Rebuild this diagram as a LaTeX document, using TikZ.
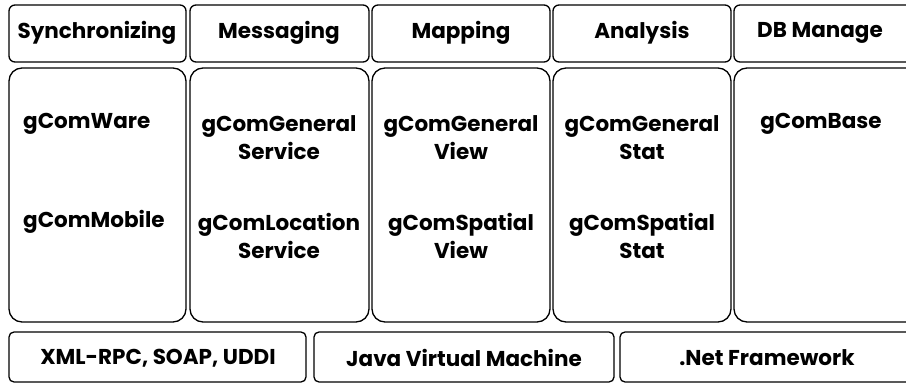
\documentclass[tikz,border=0pt]{standalone}
\usepackage{fontspec}
\setmainfont{Poppins}
\begin{document}
\begin{tikzpicture}[x=1pt,y=-1pt,
  box/.style={draw=black,line width=1.3pt,inner sep=0pt,outer sep=0pt},
  topbox/.style={box,rounded corners=6pt},
  midbox/.style={box,rounded corners=13pt},
  botbox/.style={box,rounded corners=5pt},
  lbl/.style={font=\fontsize{21.5}{24}\selectfont\bfseries,inner sep=0pt,align=center},
  mlbl/.style={font=\fontsize{21.5}{28}\selectfont\bfseries,inner sep=0pt,align=center}]
\useasboundingbox (0,0) rectangle (906,385);
\begin{scope}
\clip (0,0) rectangle (906,385);
% top row
\draw[topbox] (9,5) rectangle (186,62);
\draw[topbox] (190,5) rectangle (369,62);
\draw[topbox] (372,5) rectangle (550,62);
\draw[topbox] (553,5) rectangle (731,62);
\draw[topbox] (734,5) rectangle (920,62);
% middle row
\draw[midbox] (9,68) rectangle (186,322);
\draw[midbox] (190,68) rectangle (369,322);
\draw[midbox] (372,68) rectangle (550,322);
\draw[midbox] (553,68) rectangle (731,322);
\draw[midbox] (734,68) rectangle (920,322);
% bottom row
\draw[botbox] (9,332) rectangle (306,382);
\draw[botbox] (314,332) rectangle (614,382);
\draw[botbox] (620,332) rectangle (920,382);
\end{scope}
% top labels
\node[lbl] (sync) at (97,33) {Synchronizing};
\node[lbl] (msg) at (279,33) {Messaging};
\node[lbl] (map) at (461,33) {Mapping};
\node[lbl] (ana) at (642,33) {Analysis};
\node[lbl] (db) at (820,33) {DB Manage};
% middle labels
\node[lbl,anchor=west] (ware) at (23,124) {gComWare};
\node[lbl,anchor=west] (mob) at (23,222) {gComMobile};
\node[mlbl] (gs) at (279,138) {gComGeneral\\Service};
\node[mlbl] (ls) at (279,236) {gComLocation\\Service};
\node[mlbl] (gv) at (461,138) {gComGeneral\\View};
\node[mlbl] (sv) at (461,236) {gComSpatial\\View};
\node[mlbl] (gst) at (642,138) {gComGeneral\\Stat};
\node[mlbl] (sst) at (642,236) {gComSpatial\\Stat};
\node[lbl] (base) at (821,124) {gComBase};
% bottom labels
\node[lbl] (xml) at (158,358) {XML-RPC, SOAP, UDDI};
\node[lbl] (jvm) at (464,358) {Java Virtual Machine};
\node[lbl] (net) at (767,358) {.Net Framework};
\end{tikzpicture}
\end{document}
